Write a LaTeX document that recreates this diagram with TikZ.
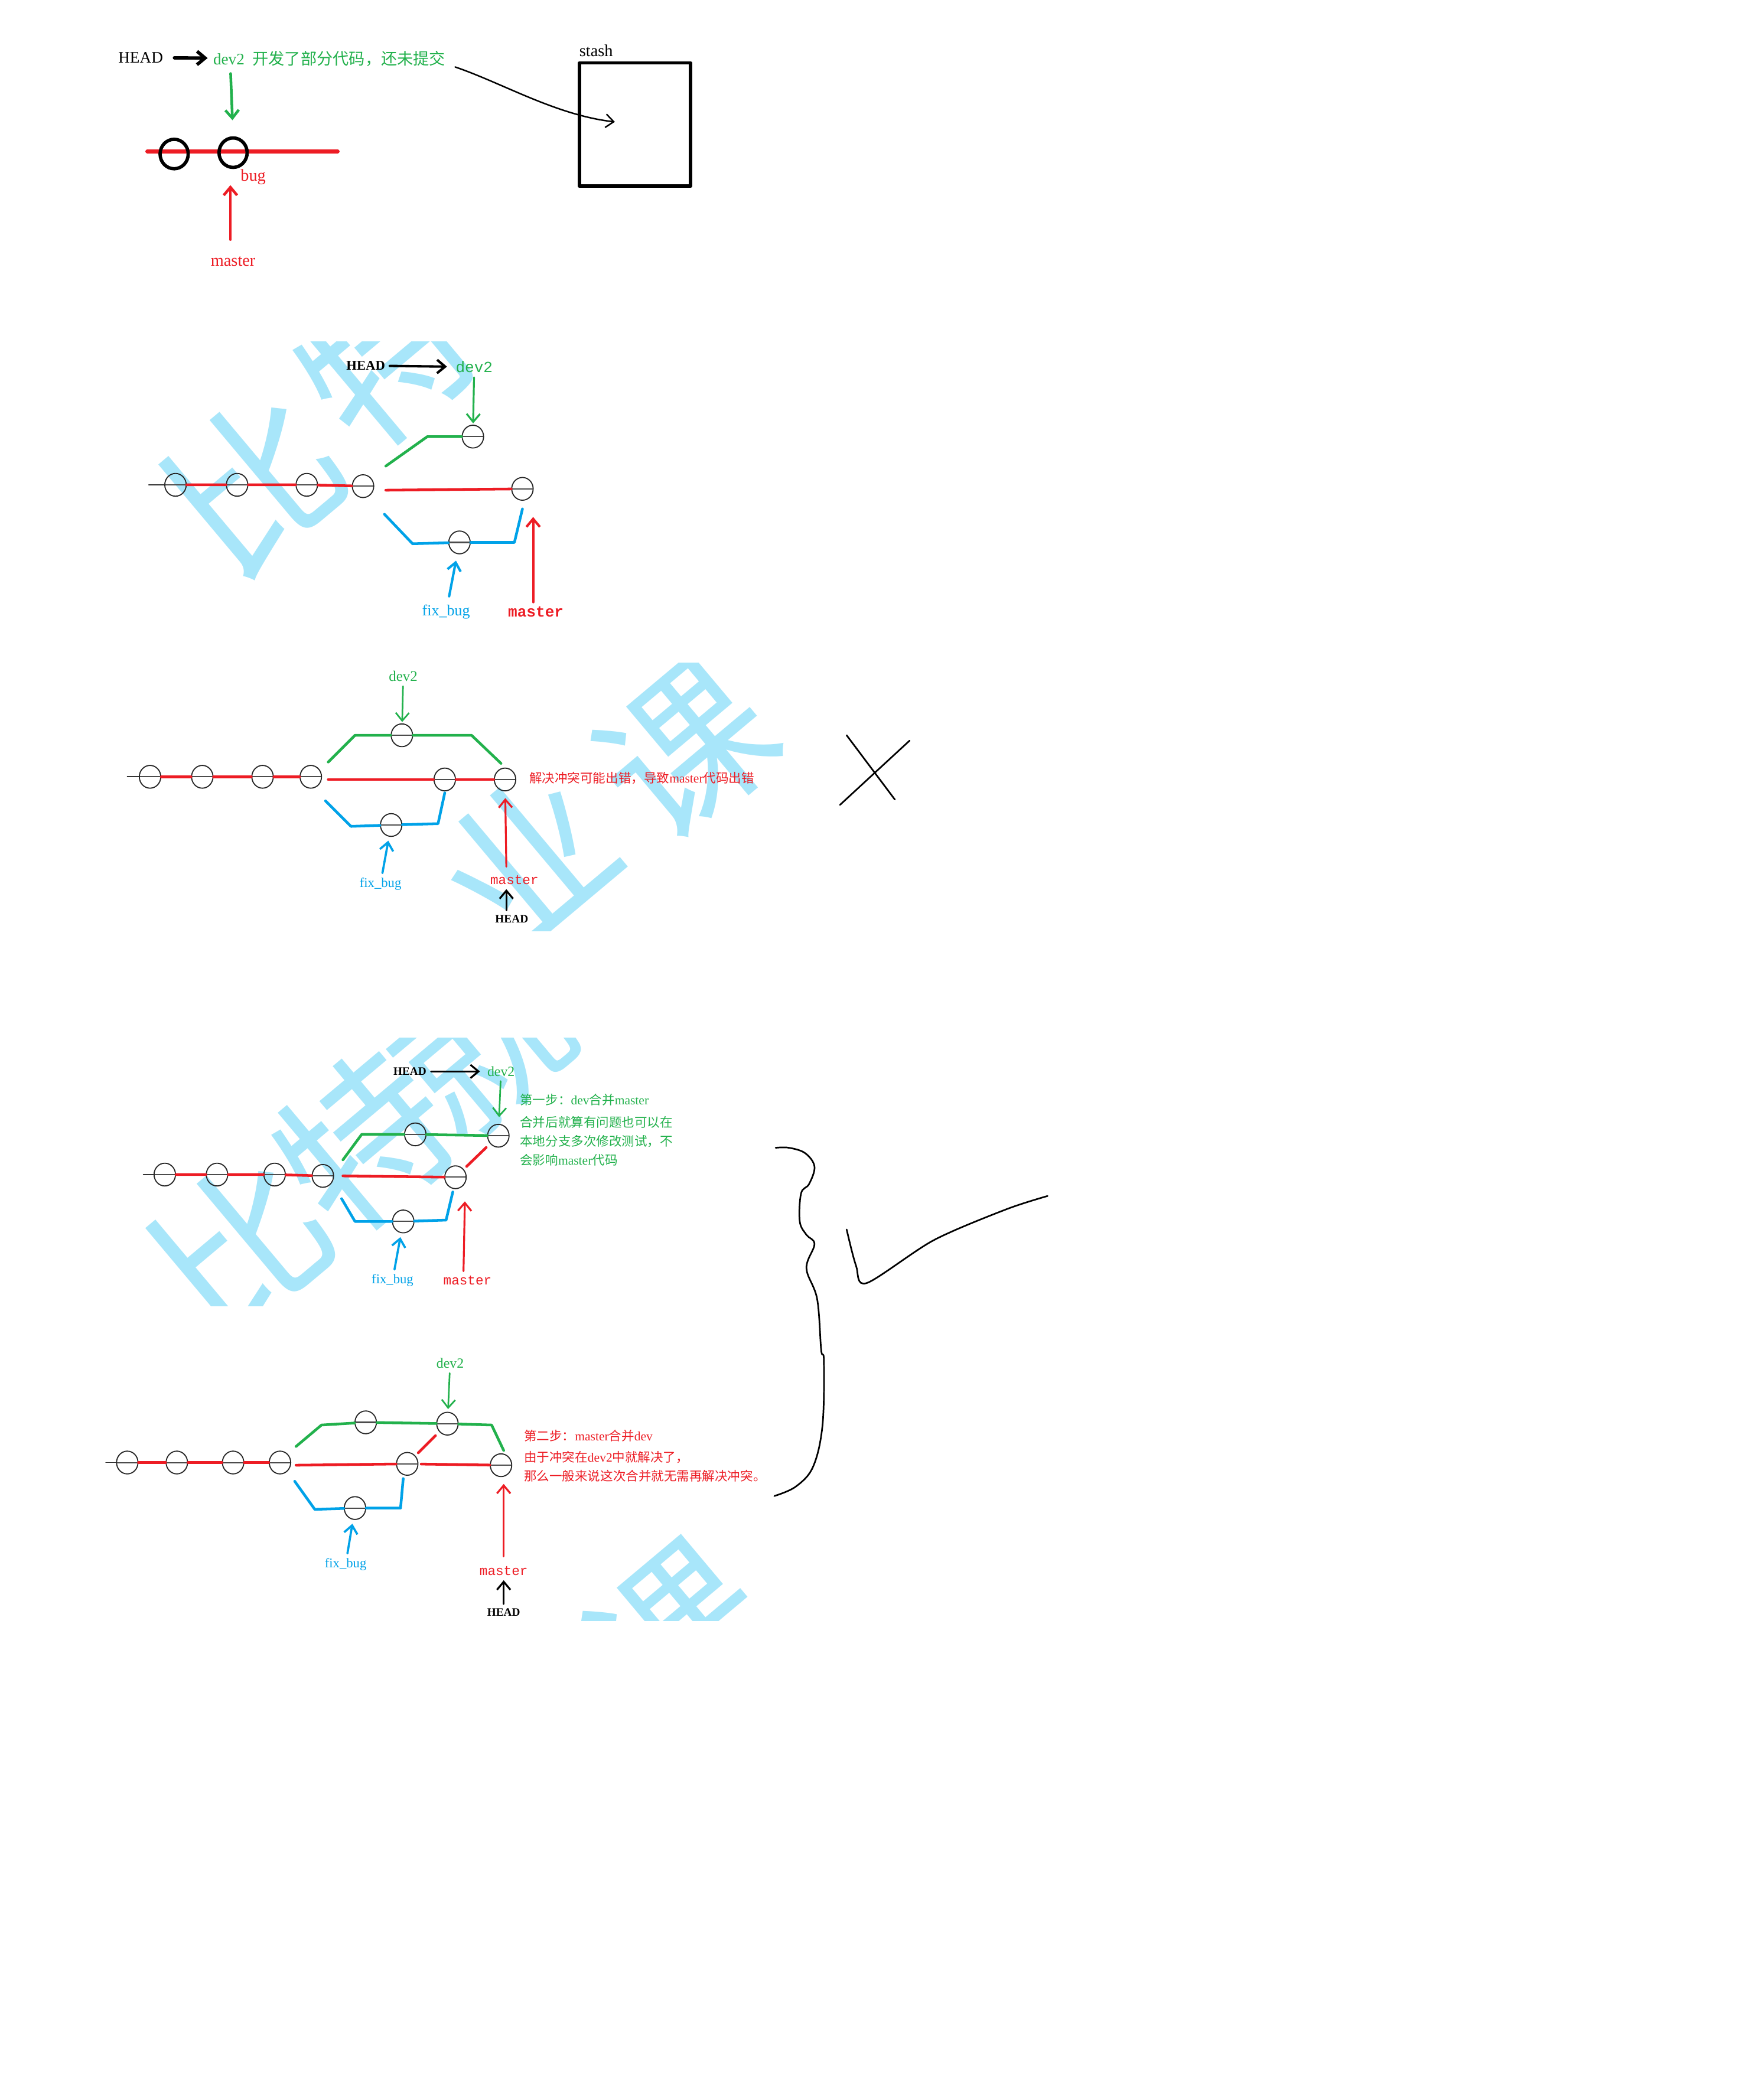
\documentclass[tikz,border=0pt]{standalone}
\usepackage{fontspec}
\setmainfont{Liberation Serif}
\newfontfamily\cjk{Noto Sans CJK SC}
\newfontfamily\mono{Liberation Mono}
\usepackage{xcolor}
\usetikzlibrary{arrows.meta,shapes.geometric}

\definecolor{pred}{HTML}{ED1C24}
\definecolor{pgreen}{HTML}{22B14C}
\definecolor{pblue}{HTML}{00A2E8}
\definecolor{wmark}{HTML}{A8E6FA}

\newcommand\fsz[1]{\fontsize{#1}{#1}\selectfont}
\newcommand\zh[1]{{\cjk #1}}

\tikzset{
  commit/.style={ellipse,draw=black!85,line width=0.8,minimum width=16,minimum height=17,inner sep=0,
    path picture={\draw[black!70,line width=0.9] (path picture bounding box.west) -- (path picture bounding box.east);}},
  bigcommit/.style={ellipse,draw=black,line width=2.5,minimum width=21,minimum height=22,inner sep=0},
  trunk/.style={pred,line width=2},
  stub/.style={black!80,line width=0.8},
  devline/.style={pgreen,line width=2},
  fixline/.style={pblue,line width=2},
  pointer/.style={->,line width=1.4},
  wm/.style={text=wmark,rotate=40,inner sep=0,font=\cjk\fsz{125}},
  note/.style={anchor=west,inner sep=0,font=\fsz{9.5}},
}

\begin{document}
\begin{tikzpicture}[x=1pt,y=-1pt,line cap=round,line join=round,>={Straight Barb[length=6pt,width=10pt]}]
\fill[white] (0,0) rectangle (1298,1568);
\useasboundingbox (0,0) rectangle (1298,1568);

% watermark pieces
\begin{scope}
\clip (100,255) rectangle (435,465);
\node[wm] (wm2a) at (190,360) {比};
\node[wm] (wm2b) at (288,266) {特};
\end{scope}
\begin{scope}
\clip (90,495) rectangle (590,695);
\node[wm] (wm3a) at (392,642) {业};
\node[wm] (wm3b) at (512,560) {课};
\end{scope}
\begin{scope}
\clip (100,775) rectangle (515,975);
\node[wm] (wm4a) at (180,930) {比};
\node[wm] (wm4b) at (272,852) {特};
\node[wm] (wm4c) at (358,780) {就};
\end{scope}
\begin{scope}
\clip (70,1005) rectangle (578,1210);
\node[wm] (wm5a) at (505,1218) {课};
\end{scope}

% part 1: work on dev2, stash it
\node[font=\fsz{12}] (h1) at (105,43) {HEAD};
\node[anchor=west,inner sep=1,font=\fsz{12},text=pgreen] (msg1) at (158,44) {dev2\ \ \zh{开发了部分代码，还未提交}};
\draw[->,line width=2.5,shorten <=5,shorten >=3] (h1) -- (msg1);
\coordinate (r1s) at (110,113);
\coordinate (r1e) at (252,113);
\draw[pred,line width=3] (r1s) -- (r1e);
\node[bigcommit] (c1a) at (130,115) {};
\node[bigcommit] (c1b) at (174,114) {};
\draw[->,pgreen,line width=2,shorten <=4,shorten >=12] ([xshift=14]msg1.south west) -- (c1b.north);
\node[font=\fsz{12.5},text=pred] (bug) at (189,132) {bug};
\node[font=\fsz{12.5},text=pred] (m1) at (174,195) {master};
\draw[->,pred,line width=2,shorten <=9,shorten >=12] ([xshift=-2]m1.north) -- ([xshift=-2]c1b.south);
\node[font=\fsz{12.5}] (stlbl) at (445,38) {stash};
\node[draw,line width=2.5,minimum width=83,minimum height=92,inner sep=0] (stash) at (474,93) {};
\coordinate (stin) at (459,91);
\draw[->,line width=1.1] ([shift={(6,6)}]msg1.east) .. controls (375,62) and (415,86) .. (stin);

% part 2: fix_bug branch from master
\node[commit] (c2a) at (131,362) {};
\node[commit] (c2b) at (177,362) {};
\node[commit] (c2c) at (229,362) {};
\node[commit] (c2d) at (271,363) {};
\node[commit] (c2e) at (353,326) {};
\node[commit] (c2f) at (343,405) {};
\node[commit] (c2g) at (390,365) {};
\coordinate (s2) at (111,362);
\draw[stub] (s2) -- (c2a);
\draw[trunk] (c2a) -- (c2b) (c2b) -- (c2c) (c2c) -- (c2d);
\draw[devline] (288,348) -- (319,326) -- (c2e);
\draw[trunk] (288,366) -- (c2g);
\draw[fixline] (287,384) -- (308,406) -- (c2f);
\draw[fixline] (c2f) -- (384,405) -- (390,380);
\node[font=\bfseries\fsz{10}] (h2) at (273,273) {HEAD};
\node[font=\mono\fsz{11.5},text=pgreen] (d2) at (354,274) {dev2};
\node[font=\fsz{11.5},text=pblue] (f2) at (333,457) {fix\_bug};
\node[font=\mono\bfseries\fsz{11.5},text=pred] (m2) at (400,457) {master};
\coordinate (m2t) at (398,386);
\draw[pointer,line width=1.8,shorten >=3] (h2) -- (d2);
\draw[pointer,pgreen,shorten >=1] (d2) -- (c2e);
\draw[pointer,pblue,line width=1.8,shorten <=3,shorten >=5] (f2) -- (c2f);
\draw[pointer,pred,line width=1.8] ([xshift=-2]m2.north) -- (m2t);

% part 3: merge fix_bug into master directly
\node[commit] (c3a) at (112,580) {};
\node[commit] (c3b) at (151,580) {};
\node[commit] (c3c) at (196,580) {};
\node[commit] (c3d) at (232,580) {};
\node[commit] (c3e) at (300,549) {};
\node[commit] (c3f) at (292,616) {};
\node[commit] (c3g) at (332,582) {};
\node[commit] (c3h) at (377,582) {};
\coordinate (s3) at (95,580);
\draw[stub] (s3) -- (c3a);
\draw[trunk] (c3a) -- (c3b) (c3b) -- (c3c) (c3c) -- (c3d);
\draw[devline] (245,569) -- (265,549) -- (c3e);
\draw[devline] (c3e) -- (352,549) -- (374,570);
\draw[trunk] (245,582) -- (c3g);
\draw[trunk] (c3g) -- (c3h);
\draw[fixline] (243,598) -- (262,617) -- (c3f);
\draw[fixline] (c3f) -- (327,615) -- (332,592);
\node[font=\fsz{11},text=pgreen] (d3) at (301,505) {dev2};
\node[font=\fsz{10},text=pblue] (f3) at (284,660) {fix\_bug};
\node[font=\mono\fsz{10},text=pred] (m3) at (384,657) {master};
\node[font=\bfseries\fsz{8.5}] (h3) at (382,686) {HEAD};
\draw[pointer,pgreen,line width=1.2,shorten >=1] (d3) -- (c3e);
\draw[pointer,pblue,line width=1.6,shorten >=3] (f3) -- (c3f);
\draw[pointer,pred,line width=1.4,shorten <=3,shorten >=5] ([xshift=-6]m3.north) -- (c3h);
\draw[pointer,line width=1.4] ([xshift=-4]h3.north) -- ([xshift=-6]m3.south);
\node[note,text=pred] (t3) at (395,581) {\zh{解决冲突可能出错，导致}master\zh{代码出错}};
\coordinate (xa) at (632,549);
\coordinate (xb) at (668,597);
\coordinate (xc) at (627,601);
\coordinate (xd) at (679,553);
\draw[line width=1.2] (xa) -- (653,577) -- (xb);
\draw[line width=1.2] (xc) -- (653,577) -- (xd);

% part 4: step one, merge master into dev2
\node[commit] (c4a) at (123,877) {};
\node[commit] (c4b) at (162,877) {};
\node[commit] (c4c) at (205,877) {};
\node[commit] (c4d) at (241,878) {};
\node[commit] (c4e) at (310,847) {};
\node[commit] (c4f) at (372,848) {};
\node[commit] (c4g) at (340,879) {};
\node[commit] (c4h) at (301,912) {};
\coordinate (s4) at (107,877);
\draw[stub] (s4) -- (c4a);
\draw[trunk] (c4a) -- (c4b) (c4b) -- (c4c) (c4c) -- (c4d);
\draw[devline] (256,866) -- (270,847) -- (c4e);
\draw[devline] (c4e) -- (c4f);
\draw[trunk] (256,878) -- (c4g);
\draw[trunk,shorten <=3,shorten >=4] (c4g) -- (c4f);
\draw[fixline] (255,895) -- (265,912) -- (c4h);
\draw[fixline] (c4h) -- (333,911) -- (338,890);
\node[font=\bfseries\fsz{8.5}] (h4) at (306,800) {HEAD};
\node[font=\fsz{10.5},text=pgreen] (d4) at (374,800) {dev2};
\node[font=\fsz{10},text=pblue] (f4) at (293,956) {fix\_bug};
\node[font=\mono\fsz{10},text=pred] (m4) at (349,956) {master};
\coordinate (m4t) at (347,897);
\draw[pointer,line width=1.4,shorten >=2] (h4) -- (d4);
\draw[pointer,pgreen,line width=1.2,shorten >=5] (d4) -- (c4f);
\draw[pointer,pblue,line width=1.6,shorten >=3] (f4) -- (c4h);
\draw[pointer,pred,line width=1.4] ([xshift=-3]m4.north) -- (m4t);
\node[note,text=pgreen] (t4a) at (388,821) {\zh{第一步：}dev\zh{合并}master};
\node[note,text=pgreen] (t4b) at (388,838) {\zh{合并后就算有问题也可以在}};
\node[note,text=pgreen] (t4c) at (388,852) {\zh{本地分支多次修改测试，不}};
\node[note,text=pgreen] (t4d) at (388,866) {\zh{会影响}master\zh{代码}};

% part 5: step two, merge dev2 into master
\node[commit] (c5a) at (95,1092) {};
\node[commit] (c5b) at (132,1092) {};
\node[commit] (c5c) at (174,1092) {};
\node[commit] (c5d) at (209,1092) {};
\node[commit] (c5e) at (273,1062) {};
\node[commit] (c5f) at (334,1063) {};
\node[commit] (c5g) at (304,1093) {};
\node[commit] (c5h) at (374,1094) {};
\node[commit] (c5i) at (265,1126) {};
\coordinate (s5) at (79,1092);
\draw[stub] (s5) -- (c5a);
\draw[trunk] (c5a) -- (c5b) (c5b) -- (c5c) (c5c) -- (c5d);
\draw[devline] (221,1080) -- (240,1064) -- (c5e);
\draw[devline] (c5e) -- (c5f);
\draw[devline] (c5f) -- (367,1064) -- (376,1083);
\draw[trunk] (221,1094) -- (c5g);
\draw[trunk,shorten <=2] (c5g) -- (c5h);
\draw[trunk,shorten <=3,shorten >=4] (c5g) -- (c5f);
\draw[fixline] (220,1106) -- (235,1127) -- (c5i);
\draw[fixline] (c5i) -- (299,1126) -- (301,1104);
\node[font=\fsz{10.5},text=pgreen] (d5) at (336,1018) {dev2};
\node[font=\fsz{10},text=pblue] (f5) at (258,1168) {fix\_bug};
\node[font=\mono\fsz{10},text=pred] (m5) at (376,1173) {master};
\node[font=\bfseries\fsz{8.5}] (h5) at (376,1204) {HEAD};
\coordinate (m5t) at (376,1108);
\draw[pointer,pgreen,line width=1.2,shorten >=2] (d5) -- (c5f);
\draw[pointer,pblue,line width=1.6,shorten >=3] (f5) -- (c5i);
\draw[pointer,pred,line width=1.4,shorten <=4] (m5.north) -- (m5t);
\draw[pointer,line width=1.4] (h5.north) -- (m5.south);
\node[note,text=pred] (t5a) at (391,1072) {\zh{第二步：}master\zh{合并}dev};
\node[note,text=pred] (t5b) at (391,1088) {\zh{由于冲突在}dev2\zh{中就解决了，}};
\node[note,text=pred] (t5c) at (391,1102) {\zh{那么一般来说这次合并就无需再解决冲突。}};

% brace and tick
\draw[line width=1.2] plot[smooth,tension=0.6] coordinates {(579,857) (589,857) (601,861) (608,871) (604,884) (598,891) (597,912) (602,922) (608,929) (602,947) (610,970) (613,1008) (615,1016) (614,1064) (607,1095) (594,1110) (578,1117)};
\draw[line width=1.2] plot[smooth,tension=0.5] coordinates {(632,918) (639,945) (647,958) (697,926) (751,903) (782,893)};
\end{tikzpicture}
\end{document}
